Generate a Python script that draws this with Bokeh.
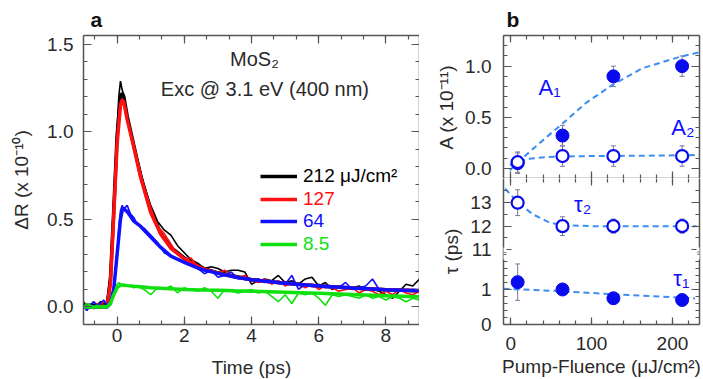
import math
from bokeh.plotting import figure
from bokeh.models import (LinearAxis, SingleIntervalTicker, FixedTicker, NumeralTickFormatter,
                          CustomJSTickFormatter, Legend, LegendItem, Label, Whisker, TeeHead,
                          ColumnDataSource, Range1d)
from bokeh.layouts import row, column
from bokeh.embed import file_html
from bokeh.resources import INLINE

FONT = "Liberation Sans"
AXC = "#555555"
TXT = "#2a2a2a"

# ---------------- panel a data ----------------
t_data = [-1.0, -0.9, -0.8, -0.7, -0.6, -0.5, -0.4, -0.3, -0.2, -0.1,
          0.0, 0.05, 0.1, 0.15, 0.2, 0.3, 0.4, 0.5, 0.6, 0.8,
          1.0, 1.2, 1.4, 1.6, 1.8, 2.0, 2.2, 2.4, 2.6, 2.8,
          3.0, 3.2, 3.4, 3.6, 3.8, 4.0, 4.2, 4.4, 4.6, 4.8,
          5.0, 5.2, 5.4, 5.6, 5.8, 6.0, 6.2, 6.4, 6.6, 6.8,
          7.0, 7.2, 7.4, 7.6, 7.8, 8.0, 8.2, 8.4, 8.6, 8.8,
          9.0]
dr_212 = [0.03, 0.00, 0.01, 0.03, 0.01, 0.03, 0.02, 0.03, 0.20, 0.62,
          1.02, 1.20, 1.29, 1.24, 1.21, 1.10, 1.01, 0.93, 0.85, 0.70,
          0.58, 0.49, 0.44, 0.41, 0.35, 0.31, 0.27, 0.25, 0.22, 0.23,
          0.22, 0.20, 0.21, 0.21, 0.20, 0.13, 0.15, 0.16, 0.15, 0.18,
          0.14, 0.15, 0.13, 0.16, 0.17, 0.12, 0.14, 0.10, 0.12, 0.10,
          0.11, 0.12, 0.10, 0.10, 0.09, 0.07, 0.05, 0.09, 0.13, 0.12,
          0.16]
dr_127 = [0.00, -0.02, 0.01, -0.01, 0.02, 0.01, 0.03, 0.02, 0.15, 0.55,
          0.95, 1.10, 1.17, 1.19, 1.16, 1.07, 0.99, 0.92, 0.84, 0.69,
          0.57, 0.46, 0.42, 0.36, 0.30, 0.27, 0.28, 0.23, 0.22, 0.20,
          0.19, 0.21, 0.18, 0.17, 0.18, 0.15, 0.14, 0.16, 0.13, 0.15,
          0.12, 0.14, 0.13, 0.11, 0.13, 0.10, 0.12, 0.11, 0.09, 0.10,
          0.11, 0.08, 0.10, 0.09, 0.07, 0.09, 0.07, 0.10, 0.08, 0.07,
          0.09]
dr_64 = [0.01, -0.02, 0.01, 0.03, 0.01, 0.02, 0.04, 0.01, 0.03, 0.12,
         0.30, 0.45, 0.55, 0.58, 0.56, 0.58, 0.53, 0.51, 0.47, 0.45,
         0.41, 0.37, 0.31, 0.29, 0.27, 0.26, 0.24, 0.22, 0.19, 0.21,
         0.17, 0.18, 0.20, 0.16, 0.17, 0.15, 0.16, 0.14, 0.15, 0.14,
         0.13, 0.18, 0.10, 0.13, 0.12, 0.13, 0.11, 0.12, 0.11, 0.14,
         0.10, 0.11, 0.12, 0.16, 0.10, 0.10, 0.09, 0.10, 0.09, 0.10,
         0.10]
dr_8p5 = [0.00, 0.02, 0.01, -0.01, 0.01, 0.00, 0.01, 0.00, 0.02, 0.07,
          0.13, 0.14, 0.13, 0.12, 0.13, 0.12, 0.12, 0.11, 0.12, 0.10,
          0.07, 0.11, 0.10, 0.12, 0.08, 0.11, 0.10, 0.09, 0.11, 0.09,
          0.05, 0.10, 0.09, 0.08, 0.09, 0.10, 0.08, 0.09, 0.06, 0.03,
          0.07, 0.02, 0.08, 0.07, 0.08, 0.05, 0.01, 0.07, 0.06, 0.07,
          0.06, 0.05, 0.07, 0.05, 0.06, 0.04, 0.06, 0.05, 0.03, 0.05,
          0.04]

t_fit = [-1.0, -0.3, -0.2, -0.1, 0.0, 0.1, 0.15, 0.2, 0.3, 0.5, 0.7, 1.0,
         1.3, 1.6, 2.0, 2.5, 3.0, 3.5, 4.0, 5.0, 6.0, 7.0, 8.0, 9.0]
fit_212 = [0.01, 0.01, 0.15, 0.55, 0.98, 1.20, 1.22, 1.20, 1.09, 0.92, 0.75, 0.55,
           0.42, 0.34, 0.28, 0.225, 0.195, 0.175, 0.155, 0.135, 0.12, 0.108, 0.099, 0.092]
fit_127 = [0.0, 0.0, 0.13, 0.52, 0.93, 1.15, 1.18, 1.17, 1.07, 0.91, 0.74, 0.54,
           0.415, 0.335, 0.275, 0.222, 0.193, 0.173, 0.155, 0.135, 0.12, 0.108, 0.099, 0.092]
fit_64 = [0.0, 0.0, 0.02, 0.10, 0.30, 0.50, 0.55, 0.56, 0.545, 0.49, 0.46, 0.40,
          0.34, 0.29, 0.255, 0.215, 0.192, 0.171, 0.155, 0.135, 0.12, 0.108, 0.099, 0.092]
fit_8p5 = [0.0, 0.0, 0.02, 0.07, 0.11, 0.125, 0.125, 0.124, 0.122, 0.118, 0.115, 0.11,
           0.107, 0.104, 0.10, 0.097, 0.095, 0.092, 0.09, 0.084, 0.078, 0.071, 0.064, 0.058]

legend_labels = ["212 \u03bcJ/cm\u00b2", "127", "64", "8.5"]

# ---------------- panel b data ----------------
fluence = [8.5, 64, 127, 212]
A1 = [0.05, 0.32, 0.90, 1.00]
A1_err = [0.10, 0.10, 0.10, 0.10]
A2 = [0.06, 0.12, 0.12, 0.12]
A2_err = [0.10, 0.10, 0.10, 0.10]
tau1 = [1.21, 1.00, 0.75, 0.70]
tau1_err = [0.52, 0.05, 0.05, 0.05]
tau2 = [13.0, 12.0, 12.0, 12.0]
tau2_err = [0.55, 0.40, 0.30, 0.30]

A1_fit_x = [-1, 9, 27.5, 45, 63, 93, 125.5, 163, 208.6, 236]
A1_fit_y = [-0.02, 0.06, 0.19, 0.31, 0.43, 0.64, 0.815, 0.98, 1.09, 1.14]
A2_fit_x = [-1, 9, 25, 45, 63, 100, 150, 236]
A2_fit_y = [0.03, 0.065, 0.095, 0.11, 0.115, 0.12, 0.122, 0.13]
tau1_fit_x = [-9, 60, 125, 212, 228]
tau1_fit_y = [1.02, 0.955, 0.865, 0.765, 0.745]
tau2_fit_x = [-7, 9, 27.5, 48, 63, 100, 150, 230]
tau2_fit_y = [13.6, 13.0, 12.5, 12.15, 12.04, 12.0, 12.0, 12.0]

# broken tau axis: lower part in tau1 units, upper part mapped on a second range
TAU1_HI = 4.171
TAU2_LO, TAU2_HI = 7.806, 14.031
tau2_major = [11, 12, 13]
tau2_minor = [11.5, 12.5, 13.5]
tau1_major = [0.0, 1.0]
tau1_minor = [0.2, 0.4, 0.6, 0.8, 1.2, 1.4, 1.6, 1.8]
BREAK_AT = 2.03

BLACK, RED, BLUE, GREEN = "#000000", "#ff1010", "#1010ff", "#10e010"
PTB = "#0a0aee"
FITB = "#3d8ef0"
ERR = "#7a7a96"


def make_fig(fw, fh, xr, yr, bl, br, bt, bb, title=None):
    kw = dict(frame_width=fw, frame_height=fh,
              x_range=Range1d(*xr), y_range=Range1d(*yr),
              min_border_left=bl, min_border_right=br,
              min_border_top=bt, min_border_bottom=bb,
              x_axis_location=None, y_axis_location=None,
              output_backend="svg", toolbar_location=None)
    if title is not None:
        kw["title"] = title
    p = figure(**kw)
    p.grid.visible = False
    p.outline_line_color = None
    p.background_fill_color = "white"
    p.border_fill_color = "white"
    if title is not None:
        p.title.text_font = FONT
        p.title.text_font_size = "21px"
        p.title.text_font_style = "bold"
        p.title.text_color = "#111111"
        p.title.align = "left"
    return p


def add_axis(p, loc, ticker, labels=False, fmt=None, label=None, line=True,
             tick_in=8, minor_in=4, standoff=10, label_standoff=8):
    ax = LinearAxis(ticker=ticker)
    ax.axis_line_color = AXC if line else None
    ax.axis_line_width = 1.5
    ax.major_tick_line_color = AXC
    ax.minor_tick_line_color = AXC
    ax.major_tick_line_width = 1.2
    ax.minor_tick_line_width = 1.2
    ax.major_tick_in = tick_in
    ax.major_tick_out = 0
    ax.minor_tick_in = minor_in
    ax.minor_tick_out = 0
    ax.major_label_text_font = FONT
    ax.major_label_text_color = TXT
    ax.major_label_text_font_size = "19px"
    ax.axis_label_text_font = FONT
    ax.axis_label_text_font_size = "19px"
    ax.axis_label_text_font_style = "normal"
    ax.axis_label_text_color = TXT
    if labels:
        if fmt is not None:
            ax.formatter = fmt
        ax.major_label_standoff = standoff
    else:
        ax.formatter = CustomJSTickFormatter(code="return ''")
        ax.major_label_standoff = 0
    if label is not None:
        ax.axis_label = label
        ax.axis_label_standoff = label_standoff
    p.add_layout(ax, loc)
    return ax


# ======================= panel a =======================
pa = make_fig(336, 289, (-1, 9), (-0.1, 1.55), 83, 0, 35, 55, title="a")
pa.title.offset = 7
xt_a = SingleIntervalTicker(interval=2, num_minor_ticks=3)
yt_a = SingleIntervalTicker(interval=0.5, num_minor_ticks=5)
add_axis(pa, "below", xt_a, labels=True, label="Time (ps)", standoff=4, label_standoff=12)
add_axis(pa, "left", yt_a, labels=True, fmt=NumeralTickFormatter(format="0.0"),
         label="\u0394R (x 10\u207b\u00b9\u2070)", standoff=10, label_standoff=12)
add_axis(pa, "above", xt_a)
add_axis(pa, "right", yt_a)

fit_rs = []
for yd, yf, col in [(dr_212, fit_212, BLACK), (dr_127, fit_127, RED),
                    (dr_64, fit_64, BLUE), (dr_8p5, fit_8p5, GREEN)]:
    pa.line(t_data, yd, line_color=col, line_width=1.6)
    r = pa.line(t_fit, yf, line_color=col, line_width=3.5)
    fit_rs.append(r)

leg_cols = [BLACK, RED, BLUE, GREEN]
leg_y = [137, 114, 92, 69]
for lab, col, r, ly in zip(legend_labels, leg_cols, fit_rs, leg_y):
    lg = Legend(items=[LegendItem(label=lab, renderers=[r])], location=(177, ly),
                padding=0, margin=0, border_line_color=None,
                background_fill_alpha=0, label_text_color=col,
                label_text_font=FONT, label_text_font_size="19px",
                glyph_width=37, glyph_height=18, label_height=18,
                label_standoff=6, spacing=0)
    pa.add_layout(lg, "center")

pa.add_layout(Label(x=4.09, y=1.417, text="MoS\u2082", text_font=FONT,
                    text_font_size="20px", text_color=TXT,
                    text_align="center", text_baseline="middle"))
pa.add_layout(Label(x=4.4, y=1.246, text="Exc @ 3.1 eV (400 nm)", text_font=FONT,
                    text_font_size="20px", text_color=TXT,
                    text_align="center", text_baseline="middle"))

# ======================= panel b =======================
XR_B = (-9, 233.5)
xt_b = SingleIntervalTicker(interval=100, num_minor_ticks=5)

# --- amplitudes ---
pA = make_fig(196, 143, XR_B, (-0.1, 1.30), 84, 3, 35, 0, title="b")
pA.title.offset = 3
yt_A = SingleIntervalTicker(interval=0.5, num_minor_ticks=5)
add_axis(pA, "left", yt_A, labels=True, fmt=NumeralTickFormatter(format="0.0"),
         label="A (x 10\u207b\u00b9\u00b9)", standoff=12, label_standoff=5)
add_axis(pA, "right", yt_A)
add_axis(pA, "above", xt_b, tick_in=7)
add_axis(pA, "below", xt_b, tick_in=7)

pA.line(A1_fit_x, A1_fit_y, line_color=FITB, line_width=2, line_dash="6 4")
pA.line(A2_fit_x, A2_fit_y, line_color=FITB, line_width=2, line_dash="6 4")
srcA1 = ColumnDataSource(dict(x=fluence, y=A1,
                              lo=[v - e for v, e in zip(A1, A1_err)],
                              hi=[v + e for v, e in zip(A1, A1_err)]))
srcA2 = ColumnDataSource(dict(x=fluence, y=A2,
                              lo=[v - e for v, e in zip(A2, A2_err)],
                              hi=[v + e for v, e in zip(A2, A2_err)]))
for s in (srcA1, srcA2):
    pA.add_layout(Whisker(source=s, base="x", upper="hi", lower="lo",
                          line_color=ERR, line_width=1,
                          upper_head=TeeHead(size=5, line_color=ERR, line_width=1),
                          lower_head=TeeHead(size=5, line_color=ERR, line_width=1)))
pA.scatter("x", "y", source=srcA1, size=13, fill_color=PTB, line_color=PTB)
pA.scatter("x", "y", source=srcA2, size=12, fill_color="white", line_color=PTB, line_width=2.2)
pA.add_layout(Label(x=48, y=0.79, text="A\u2081", text_font=FONT, text_font_size="22px",
                    text_color=BLUE, text_align="center", text_baseline="middle"))
pA.add_layout(Label(x=213, y=0.40, text="A\u2082", text_font=FONT, text_font_size="22px",
                    text_color=BLUE, text_align="center", text_baseline="middle"))

# --- lifetimes (broken axis) ---
pT = make_fig(196, 146, XR_B, (0, TAU1_HI), 84, 3, 0, 55)
pT.extra_y_ranges = {"tau2": Range1d(TAU2_LO, TAU2_HI)}


def tau2_pos(v):
    return (v - TAU2_LO) / (TAU2_HI - TAU2_LO) * TAU1_HI


tick_pos = tau1_major + [tau2_pos(v) for v in tau2_major]
tick_lab = ["%d" % v for v in tau1_major] + ["%d" % v for v in tau2_major]
minor_pos = tau1_minor + [tau2_pos(v) for v in tau2_minor]
yt_T = FixedTicker(ticks=tick_pos, minor_ticks=minor_pos)
axT = add_axis(pT, "left", yt_T, labels=True, fmt=NumeralTickFormatter(format="0"),
               label="\u03c4 (ps)", standoff=12, label_standoff=5)
axT.major_label_overrides = {float(k): s for k, s in zip(tick_pos, tick_lab)}
add_axis(pT, "right", yt_T)
add_axis(pT, "above", xt_b, line=False, tick_in=7)
add_axis(pT, "below", xt_b, labels=True, fmt=NumeralTickFormatter(format="0"),
         label="Pump-Fluence (\u03bcJ/cm\u00b2)", tick_in=7, standoff=12, label_standoff=3)

pT.line(tau2_fit_x, tau2_fit_y, line_color=FITB, line_width=2, line_dash="6 4",
        y_range_name="tau2")
pT.line(tau1_fit_x, tau1_fit_y, line_color=FITB, line_width=2, line_dash="6 4")
srcT2 = ColumnDataSource(dict(x=fluence, y=tau2,
                              lo=[v - e for v, e in zip(tau2, tau2_err)],
                              hi=[v + e for v, e in zip(tau2, tau2_err)]))
srcT1 = ColumnDataSource(dict(x=fluence, y=tau1,
                              lo=[v - e for v, e in zip(tau1, tau1_err)],
                              hi=[v + e for v, e in zip(tau1, tau1_err)]))
pT.add_layout(Whisker(source=srcT2, base="x", upper="hi", lower="lo", y_range_name="tau2",
                      line_color=ERR, line_width=1,
                      upper_head=TeeHead(size=5, line_color=ERR, line_width=1),
                      lower_head=TeeHead(size=5, line_color=ERR, line_width=1)))
pT.add_layout(Whisker(source=srcT1, base="x", upper="hi", lower="lo",
                      line_color=ERR, line_width=1,
                      upper_head=TeeHead(size=5, line_color=ERR, line_width=1),
                      lower_head=TeeHead(size=5, line_color=ERR, line_width=1)))
pT.scatter("x", "y", source=srcT2, size=12, fill_color="white", line_color=PTB,
           line_width=2.2, y_range_name="tau2")
pT.scatter("x", "y", source=srcT1, size=13, fill_color=PTB, line_color=PTB)
pT.add_layout(Label(x=89, y=12.93, y_range_name="tau2", text="\u03c4\u2082", text_font=FONT,
                    text_font_size="22px", text_color=BLUE,
                    text_align="center", text_baseline="middle"))
pT.add_layout(Label(x=211, y=1.30, text="\u03c4\u2081", text_font=FONT, text_font_size="22px",
                    text_color=BLUE, text_align="center", text_baseline="middle"))
for bx in XR_B:
    pT.add_layout(Label(x=bx, y=BREAK_AT, text="\u2248", text_font=FONT,
                        text_font_size="11px", text_color=AXC,
                        background_fill_color="white",
                        text_align="center", text_baseline="middle"))

layout = row(pa, column(pA, pT))
open("out.html", "w").write(file_html(layout, INLINE))
